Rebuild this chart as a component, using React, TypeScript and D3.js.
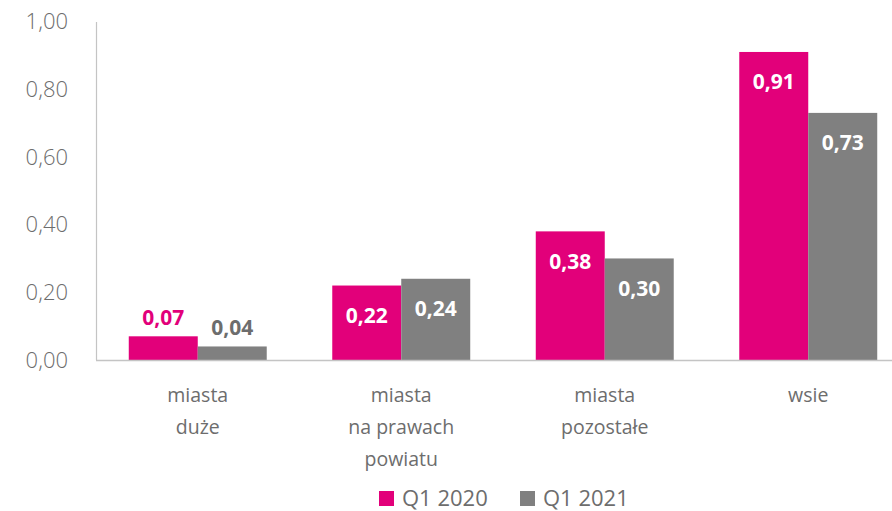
import React from "react";
import * as d3 from "d3";

const categories = ["miasta duże", "miasta na prawach powiatu", "miasta pozostałe", "wsie"];
const categoryLines = [["miasta", "duże"], ["miasta", "na prawach", "powiatu"], ["miasta", "pozostałe"], ["wsie"]];
const seriesNames = ["Q1 2020", "Q1 2021"];
const q2020 = [0.07, 0.22, 0.38, 0.91];
const q2021 = [0.04, 0.24, 0.30, 0.73];
const yTicks = [0, 0.2, 0.4, 0.6, 0.8, 1.0];
const colors = ["#E2007A", "#808080"];

const W = 892, H = 511;
const fmt = (v: number) => v.toFixed(2).replace(".", ",");

export default function App() {
  const x0 = d3.scaleBand<string>().domain(categories).range([96, 910]).paddingInner(0.322).paddingOuter(0.161);
  const x1 = d3.scaleBand<number>().domain([0, 1]).range([0, x0.bandwidth()]);
  const y = d3.scaleLinear().domain([0, 1]).range([360, 21.5]);
  const series = [q2020, q2021];
  const font = "'Open Sans', sans-serif";
  const textGrey = "#6d6d6d";
  return (
    <svg width={W} height={H} style={{ position: "absolute", left: 0, top: 0 }} fontFamily={font}>
      {yTicks.map((t) => (
        <text key={t} x={68} y={y(t)} dy="0.35em" textAnchor="end" fontSize={22} fill={textGrey} fontWeight={300}>
          {fmt(t)}
        </text>
      ))}
      {series.map((vals, si) =>
        vals.map((v, ci) => {
          const bx = (x0(categories[ci]) as number) + (x1(si) as number);
          const bw = x1.bandwidth();
          const inside = v > 0.15;
          return (
            <g key={`${si}-${ci}`}>
              <rect x={bx} y={y(v)} width={bw} height={y(0) - y(v)} fill={colors[si]} />
              <text
                x={bx + bw / 2}
                y={inside ? y(v) + 30 : y(v) - 19}
                dy="0.35em"
                textAnchor="middle"
                fontSize={21}
                fontWeight={700}
                fill={inside ? "#ffffff" : colors[si] === "#808080" ? "#6d6d6d" : colors[si]}
              >
                {fmt(v)}
              </text>
            </g>
          );
        })
      )}
      <line x1={96.5} x2={96.5} y1={22} y2={360} stroke="#c4c4c4" strokeWidth={1.2} />
      <line x1={96} x2={892} y1={360.5} y2={360.5} stroke="#c4c4c4" strokeWidth={1.5} />
      {categoryLines.map((lines, ci) => {
        const cx = (x0(categories[ci]) as number) + x0.bandwidth() / 2;
        return (
          <text key={ci} textAnchor="middle" fontSize={19.5} fill={textGrey} fontWeight={400}>
            {lines.map((l, li) => (
              <tspan key={li} x={cx} y={395 + li * 32} dy="0.35em">{l}</tspan>
            ))}
          </text>
        );
      })}
      {seriesNames.map((n, i) => {
        const lx = 379 + i * 141;
        return (
          <g key={n}>
            <rect x={lx} y={491} width={15} height={15} fill={colors[i]} />
            <text x={lx + 23} y={498.5} dy="0.35em" fontSize={22} fill={textGrey} fontWeight={400}>{n}</text>
          </g>
        );
      })}
    </svg>
  );
}
